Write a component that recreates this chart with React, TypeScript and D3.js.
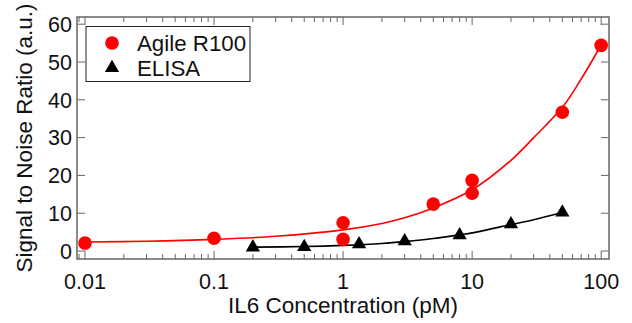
import * as d3 from 'd3';

// measured points
const agileConc = [0.01, 0.1, 1, 1, 5, 10, 10, 50, 100];
const agileSnr = [2.1, 3.4, 7.5, 3.1, 12.4, 18.7, 15.3, 36.7, 54.4];

const elisaConc = [0.2, 0.5, 1.33, 3, 8, 20, 50];
const elisaSnr = [1.0, 1.1, 1.8, 2.6, 4.2, 7.1, 10.2];

// fit curves
const agileFitConc = [0.01, 0.03, 0.1, 0.3, 1, 2, 3, 5, 10, 20, 30, 50, 70, 100];
const agileFitSnr = [2.4, 2.6, 3.1, 3.9, 5.6, 7.3, 8.8, 11.4, 16.2, 24.0, 30.0, 38.0, 45.5, 54.5];

const elisaFitConc = [0.2, 0.5, 1, 2, 3, 5, 8, 10, 20, 30, 50];
const elisaFitSnr = [1.05, 1.2, 1.5, 2.0, 2.5, 3.3, 4.3, 4.8, 7.0, 8.3, 10.2];

const yTicks = [0, 10, 20, 30, 40, 50, 60];
const xTickLabels = ['0.01', '0.1', '1', '10', '100'];
const legendLabels = ['Agile R100', 'ELISA'];

const W = 632;
const H = 323;
const FONT = 'Arial, "Liberation Sans", sans-serif';

export default function App() {
  const left = 77, right = 609, top = 17, bottom = 259;
  const x = d3.scaleLog().domain([0.00867, 115]).range([left, right]);
  const y = d3.scaleLinear().domain([-2.1, 61.9]).range([bottom, top]);

  const minor = x.ticks();
  const isMajor = (v: number) => Math.abs(Math.log10(v) - Math.round(Math.log10(v))) < 1e-6;

  const line = d3.line<[number, number]>()
    .x(d => x(d[0]))
    .y(d => y(d[1]))
    .curve(d3.curveCatmullRom.alpha(0.5));

  const agileFit = line(agileFitConc.map((c, i) => [c, agileFitSnr[i]]));
  const elisaFit = line(elisaFitConc.map((c, i) => [c, elisaFitSnr[i]]));

  const tri = d3.symbol(d3.symbolTriangle, 88)();
  const axisColor = '#666';

  return (
    <svg width={W} height={H} style={{ position: 'absolute', left: 0, top: 0 }} fontFamily={FONT}>
      <rect width={W} height={H} fill="#fff" />

      {/* ticks */}
      {minor.map((v, i) => {
        const px = x(v);
        const len = isMajor(v) ? 8 : 5;
        return (
          <g key={'xt' + i} stroke={axisColor} strokeWidth={1}>
            <line x1={px} x2={px} y1={bottom} y2={bottom - len} />
            <line x1={px} x2={px} y1={top} y2={top + len} />
          </g>
        );
      })}
      {yTicks.map(v => (
        <g key={'yt' + v} stroke={axisColor} strokeWidth={1}>
          <line x1={left} x2={left + 8} y1={y(v)} y2={y(v)} />
          <line x1={right} x2={right - 8} y1={y(v)} y2={y(v)} />
        </g>
      ))}

      {/* frame */}
      <rect x={left} y={top} width={right - left} height={bottom - top} fill="none" stroke={axisColor} strokeWidth={1.5} />

      {/* tick labels */}
      {xTickLabels.map(t => (
        <text key={t} x={x(+t)} y={289} textAnchor="middle" fontSize={21.5} fill="#111">{t}</text>
      ))}
      {yTicks.map(v => (
        <text key={'yl' + v} x={72} y={y(v)} dy="0.36em" textAnchor="end" fontSize={21.5} fill="#111">{v}</text>
      ))}

      {/* axis titles */}
      <text x={(left + right) / 2} y={313} textAnchor="middle" fontSize={22.5} fill="#111">IL6 Concentration (pM)</text>
      <text transform={`translate(32,${(top + bottom) / 2}) rotate(-90)`} textAnchor="middle" fontSize={22.5} fill="#111">
        Signal to Noise Ratio (a.u.)
      </text>

      {/* fits */}
      <path d={agileFit ?? ''} fill="none" stroke="#ff0000" strokeWidth={1.6} />
      <path d={elisaFit ?? ''} fill="none" stroke="#000" strokeWidth={1.6} />

      {/* markers */}
      {agileConc.map((c, i) => (
        <circle key={'a' + i} cx={x(c)} cy={y(agileSnr[i])} r={6.8} fill="#ff0000" />
      ))}
      {elisaConc.map((c, i) => (
        <path key={'e' + i} d={tri ?? ''} transform={`translate(${x(c)},${y(elisaSnr[i])})`} fill="#000" />
      ))}

      {/* legend */}
      <rect x={86} y={26.5} width={164} height={55} fill="#fff" stroke="#222" strokeWidth={1} />
      <circle cx={112} cy={43} r={6.8} fill="#ff0000" />
      <path d={tri ?? ''} transform="translate(112,68)" fill="#000" />
      <text x={137} y={43} dy="0.36em" fontSize={22.3} fill="#111">{legendLabels[0]}</text>
      <text x={137} y={68} dy="0.36em" fontSize={22.3} fill="#111">{legendLabels[1]}</text>
    </svg>
  );
}
